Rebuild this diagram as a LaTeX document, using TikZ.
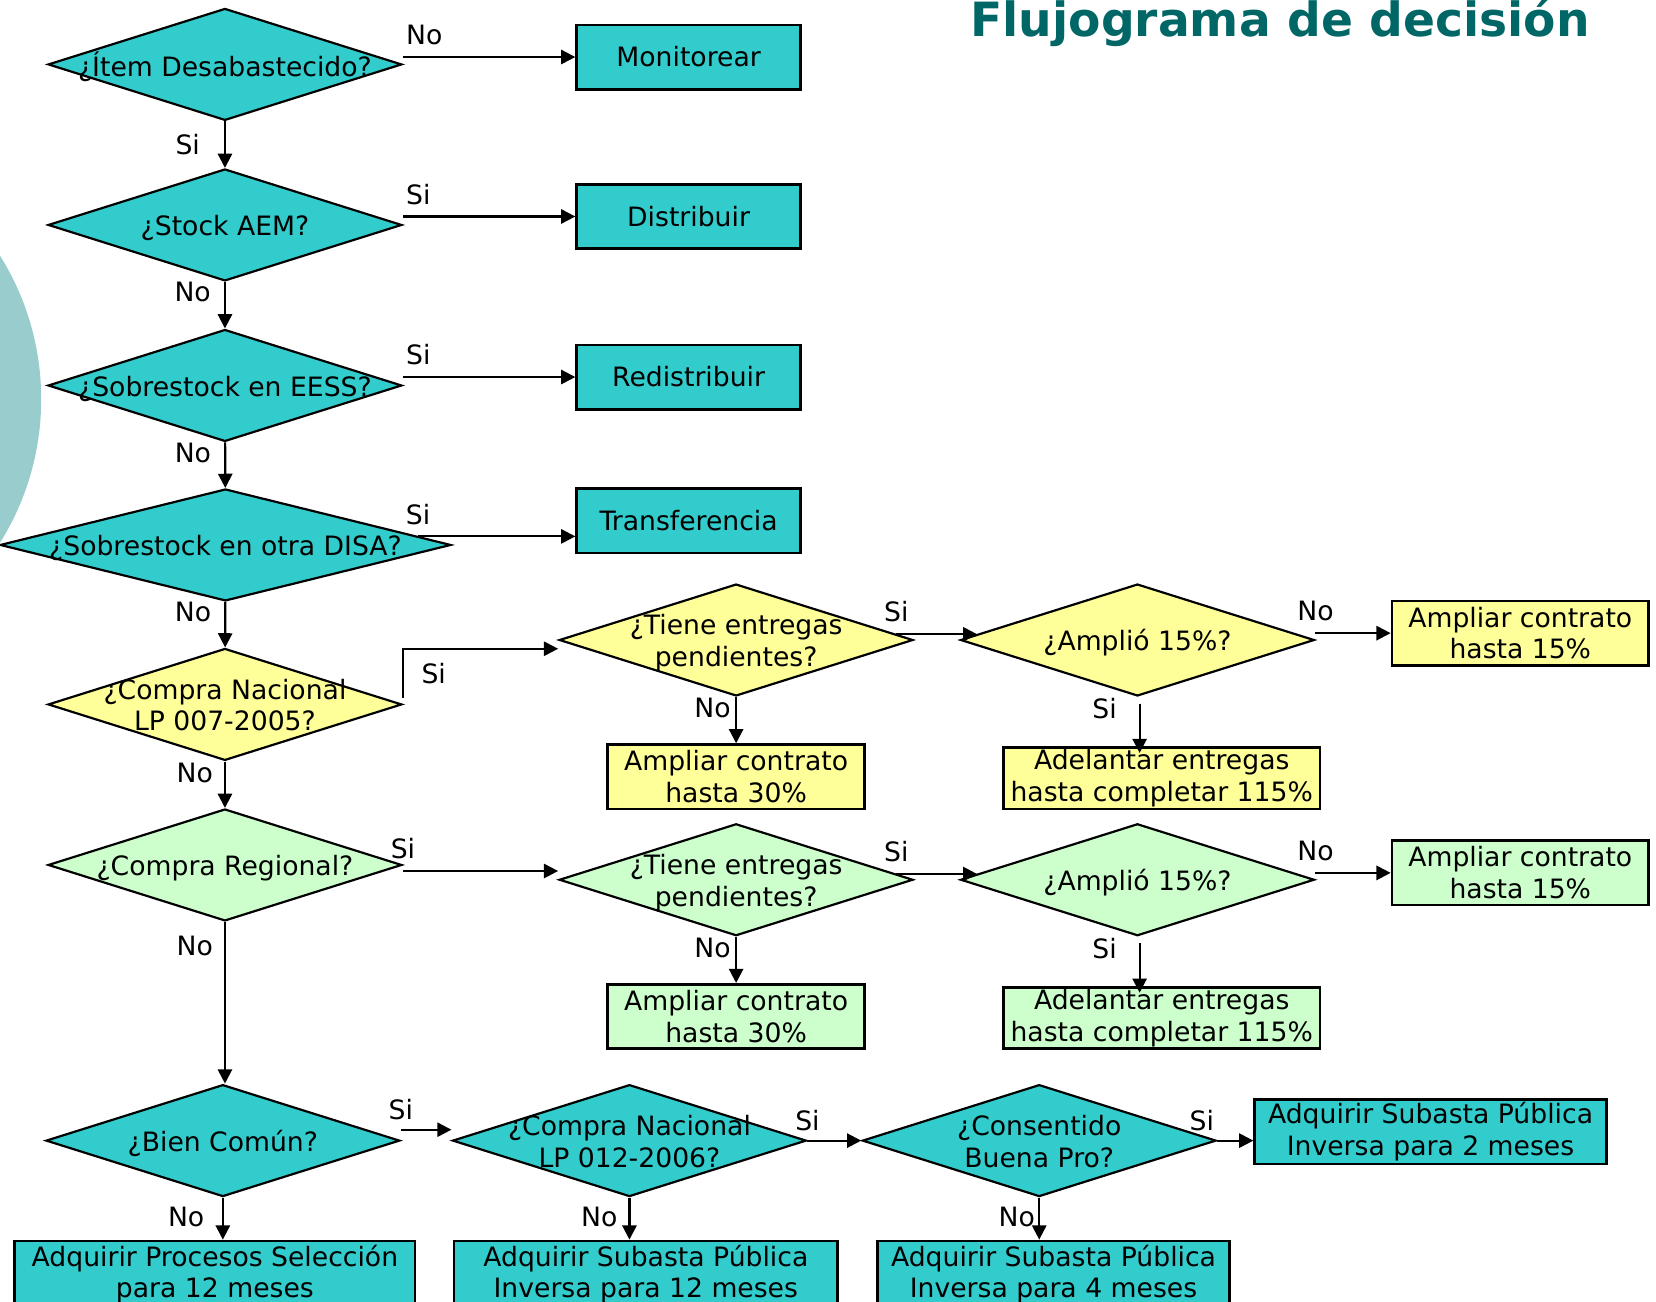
\documentclass[tikz,border=0pt]{standalone}
\usepackage{fontspec}
\setmainfont{DejaVu Sans}
\usetikzlibrary{positioning, arrows.meta, shapes.geometric, calc}

\definecolor{qcyan}{RGB}{51,204,204}
\definecolor{qyellow}{RGB}{255,255,153}
\definecolor{qgreen}{RGB}{204,255,204}
\definecolor{headteal}{RGB}{0,102,102}
\definecolor{ringblue}{RGB}{153,204,204}

\newcommand{\pxu}{0.017cm}
\newcommand{\qtext}[1]{\makebox[0pt]{\raisebox{-2pt}[\height][\depth]{\begin{tabular}{@{}c@{}}#1\end{tabular}}}}

\begin{document}
\begin{tikzpicture}[x=0.017cm,y=-0.017cm,font=\fontsize{12.2}{14.5}\selectfont,
  question/.style={diamond, draw, line width=1pt, inner sep=0pt, minimum width=335*\pxu, minimum height=106*\pxu},
  action/.style={rectangle, draw, line width=1.2pt, inner sep=0pt, align=center, minimum height=61*\pxu},
  arr/.style={-{Triangle[length=6.5pt,width=6.5pt]}, line width=1pt},
  lbl/.style={inner sep=1pt}]

\useasboundingbox (0,0) rectangle (1568,1232);
\fill[ringblue] (-217,378) circle[radius=256*\pxu];

\node[anchor=base, text=headteal, font=\fontsize{21.6}{26}\selectfont\bfseries] (head) at (1212,35) {Flujograma de decisión};

% Main column
\node[question, fill=qcyan] (item) at (213,61) {\qtext{¿Ítem Desabastecido?}};
\node[question, fill=qcyan] (stock) at (213,213) {\qtext{¿Stock AEM?}};
\node[question, fill=qcyan] (eess) at (213,365) {\qtext{¿Sobrestock en EESS?}};
\node[question, fill=qcyan, minimum width=427*\pxu] (disa) at (213.5,516) {\qtext{¿Sobrestock en otra DISA?}};
\node[question, fill=qyellow] (cnac) at (213,667) {\qtext{¿Compra Nacional\\LP 007-2005?}};
\node[question, fill=qgreen] (creg) at (213,819) {\qtext{¿Compra Regional?}};
\node[question, fill=qcyan] (bien) at (211,1080) {\qtext{¿Bien Común?}};

% Simple actions
\node[action, fill=qcyan, minimum width=212*\pxu] (monit) at (652,54) {Monitorear};
\node[action, fill=qcyan, minimum width=212*\pxu] (distrib) at (652,205) {Distribuir};
\node[action, fill=qcyan, minimum width=212*\pxu] (redist) at (652,357) {Redistribuir};
\node[action, fill=qcyan, minimum width=212*\pxu] (transf) at (652,493) {Transferencia};

% Compra nacional
\node[question, fill=qyellow] (tieneA) at (697,606) {\qtext{¿Tiene entregas\\pendientes?}};
\node[question, fill=qyellow] (amplioA) at (1077,606) {\qtext{¿Amplió 15\%?}};
\node[action, fill=qyellow, minimum width=243*\pxu] (ampA15) at (1439.5,599.5) {Ampliar contrato\\hasta 15\%};
\node[action, fill=qyellow, minimum width=243*\pxu] (ampA30) at (697,735.5) {Ampliar contrato\\hasta 30\%};
\node[action, fill=qyellow, minimum width=300*\pxu, minimum height=58*\pxu] (adelA) at (1100,737) {Adelantar entregas\\hasta completar 115\%};

% Compra regional
\node[question, fill=qgreen] (tieneB) at (697,833) {\qtext{¿Tiene entregas\\pendientes?}};
\node[question, fill=qgreen] (amplioB) at (1077,833) {\qtext{¿Amplió 15\%?}};
\node[action, fill=qgreen, minimum width=243*\pxu] (ampB15) at (1439.5,826.5) {Ampliar contrato\\hasta 15\%};
\node[action, fill=qgreen, minimum width=243*\pxu] (ampB30) at (697,962.5) {Ampliar contrato\\hasta 30\%};
\node[action, fill=qgreen, minimum width=300*\pxu, minimum height=58*\pxu] (adelB) at (1100,964) {Adelantar entregas\\hasta completar 115\%};

% Bien comun
\node[question, fill=qcyan] (cnacB) at (596,1080) {\qtext{¿Compra Nacional\\LP 012-2006?}};
\node[question, fill=qcyan] (buena) at (984,1080) {\qtext{¿Consentido\\Buena Pro?}};
\node[action, fill=qcyan, minimum width=333*\pxu] (sub2) at (1354.5,1071.5) {Adquirir Subasta Pública\\Inversa para 2 meses};
\node[action, fill=qcyan, minimum width=379*\pxu, minimum height=63*\pxu] (proc) at (203.5,1206.5) {Adquirir Procesos Selección\\para 12 meses};
\node[action, fill=qcyan, minimum width=363*\pxu, minimum height=63*\pxu] (sub12) at (611.5,1206.5) {Adquirir Subasta Pública\\Inversa para 12 meses};
\node[action, fill=qcyan, minimum width=333*\pxu, minimum height=63*\pxu] (sub4) at (997.5,1206.5) {Adquirir Subasta Pública\\Inversa para 4 meses};

% Connection points
\coordinate (disaout) at ($(disa.east)!.15!(disa.north)$);
\coordinate (tieneA-out) at ($(tieneA.east)!.1!(tieneA.north)$);
\coordinate (amplioA-in) at ($(amplioA.west)!.1!(amplioA.north)$);
\coordinate (tieneB-in) at ([yshift=4pt]tieneB.west);
\coordinate (tieneB-out) at ($(tieneB.east)!.1!(tieneB.north)$);
\coordinate (amplioB-in) at ($(amplioB.west)!.1!(amplioB.north)$);

% Down the main column
\draw[arr] (item) -- node[lbl, left=10pt] (l1) {Si} (stock);
\draw[arr] (stock) -- node[lbl, pos=.22, left=5pt] (l2) {No} (eess);
\draw[arr] (eess) -- node[lbl, pos=.22, left=5pt] (l3) {No} (disa);
\draw[arr] (disa) -- node[lbl, pos=.22, left=5pt] (l4) {No} (cnac);
\draw[arr] (cnac) -- node[lbl, pos=.24, left=4pt] (l5) {No} (creg);
\draw[arr] (creg) -- node[lbl, pos=.15, left=4pt] (l6) {No} (creg |- bien.north);

% To the right
\draw[arr] (monit.west -| item.east) -- node[lbl, pos=0, above right=4pt and 0pt] (l7) {No} (monit.west);
\draw[arr] (distrib.west -| stock.east) -- node[lbl, pos=0, above right=4pt and 0pt] (l8) {Si} (distrib.west);
\draw[arr] (redist.west -| eess.east) -- node[lbl, pos=0, above right=4pt and 0pt] (l9) {Si} (redist.west);
\draw[arr] (disaout) -- node[lbl, pos=0, above=4pt] (l10) {Si} (disaout -| transf.west);

% Compra nacional branch
\draw[arr] ([yshift=3pt]cnac.east) |- node[lbl, pos=.25, right=7pt] (l11) {Si} ([yshift=-4pt]tieneA.west);
\draw[arr] (tieneA-out) -- node[lbl, pos=0, above=4pt] (l12) {Si} (amplioA-in);
\draw[arr] (ampA15.west -| amplioA.east) -- node[lbl, pos=0, above=4pt] (l13) {No} (ampA15.west);
\draw[arr] ([xshift=1pt,yshift=-3pt]amplioA.south) -- node[lbl, pos=.1, left=9pt] (l14) {Si} ([xshift=1pt,yshift=-3pt]amplioA.south |- adelA.north);
\draw[arr] (tieneA) -- node[lbl, pos=.24, left=1pt] (l15) {No} (ampA30);

% Compra regional branch
\draw[arr] (creg.east |- tieneB-in) -- node[lbl, pos=0, above=4pt] (l16) {Si} (tieneB-in);
\draw[arr] (tieneB-out) -- node[lbl, pos=0, above=4pt] (l17) {Si} (amplioB-in);
\draw[arr] (ampB15.west -| amplioB.east) -- node[lbl, pos=0, above=4pt] (l18) {No} (ampB15.west);
\draw[arr] ([xshift=1pt,yshift=-3pt]amplioB.south) -- node[lbl, pos=.1, left=9pt] (l19) {Si} ([xshift=1pt,yshift=-3pt]amplioB.south |- adelB.north);
\draw[arr] (tieneB) -- node[lbl, pos=.24, left=1pt] (l20) {No} (ampB30);

% Bien comun branch
\draw[arr] ([yshift=5pt]bien.east) -- node[lbl, pos=0, above=3pt] (l21) {Si} ([yshift=5pt]cnacB.west);
\draw[arr] (cnacB) -- node[lbl, pos=0, above=3pt] (l22) {Si} (buena);
\draw[arr] (buena.east) -- node[lbl, pos=0, above left=3pt and 0pt] (l23) {Si} (buena.east -| sub2.west);
\draw[arr] (bien) -- node[lbl, pos=.45, left=7pt] (l24) {No} (bien |- proc.north);
\draw[arr] (cnacB) -- node[lbl, pos=.45, left=4pt] (l25) {No} (cnacB |- sub12.north);
\draw[arr] (buena) -- node[lbl, pos=.45, left=0.5pt] (l26) {No} (buena |- sub4.north);
\end{tikzpicture}
\end{document}
